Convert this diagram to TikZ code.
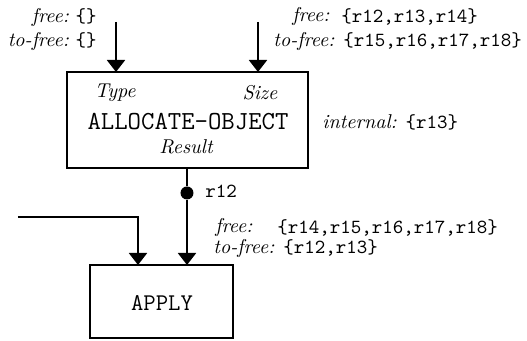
\documentclass[tikz,border=0pt]{standalone}
\usetikzlibrary{arrows.meta}
\begin{document}
\begin{tikzpicture}[x=0.5pt,y=-0.5pt,
  conn/.style={line width=1pt,-{Triangle[width=9pt,length=6pt]}},
  plain/.style={line width=1pt},
  box/.style={draw,line width=1pt,inner sep=0pt},
  lab/.style={inner sep=0pt,font=\fontsize{10}{12}\selectfont},
  port/.style={inner sep=0pt,font=\fontsize{10}{12}\selectfont\itshape}]
\useasboundingbox (0,0) rectangle (527,341);
% boxes
\node[box,minimum width=120.5pt,minimum height=48pt] (alloc) at (187.5,120) {};
\node[box,minimum width=71.5pt,minimum height=36.5pt] (apply) at (161.5,302) {};
% box texts
\node[inner sep=0pt,font=\fontsize{13}{15}\ttfamily] (allocname) at (188,122) {ALLOCATE-OBJECT};
\node[port] (type) at (115,93) {Type};
\node[port] (size) at (260,93) {Size};
\node[port] (result) at (186,147) {Result};
\node[inner sep=0pt,font=\fontsize{12}{14}\ttfamily] (applyname) at (162,303) {APPLY};
% input coordinates
\coordinate (in1) at (116,22);
\coordinate (in2) at (258,22);
\coordinate (t1) at (116,72);
\coordinate (t2) at (258,72);
\draw[conn] (in1) -- (t1);
\draw[conn] (in2) -- (t2);
% output
\coordinate (outtop) at (187,168);
\node[circle,fill=black,inner sep=0pt,minimum size=6.5pt] (dot) at (187,193) {};
\coordinate (a1) at (187,265);
\draw[plain] (outtop) -- (dot);
\draw[conn] (dot) -- (a1);
\coordinate (lstart) at (18,217);
\coordinate (lcorner) at (138,217);
\coordinate (a2) at (138,265);
\draw[conn] (lstart) -- (lcorner) -- (a2);
% labels
\node[lab,anchor=west] (r12) at (205,191) {\texttt{r12}};
\node[lab,anchor=east] (f1) at (97,18) {\textit{free:}\ \texttt{\{\}}};
\node[lab,anchor=east] (tf1) at (97,42) {\textit{to-free:}\ \texttt{\{\}}};
\node[lab,anchor=west] (f2a) at (292,17) {\textit{free:}};
\node[lab,anchor=west] (f2b) at (341,17) {\texttt{\{r12,r13,r14\}}};
\node[lab,anchor=west] (tf2) at (273,42) {\textit{to-free:} \texttt{\{r15,r16,r17,r18\}}};
\node[lab,anchor=west] (int) at (322,122) {\textit{internal:} \texttt{\{r13\}}};
\node[lab,anchor=west] (f3a) at (215,228) {\textit{free:}};
\node[lab,anchor=west] (f3b) at (277,228) {\texttt{\{r14,r15,r16,r17,r18\}}};
\node[lab,anchor=west] (tf3) at (213,249) {\textit{to-free:} \texttt{\{r12,r13\}}};
\end{tikzpicture}
\end{document}
